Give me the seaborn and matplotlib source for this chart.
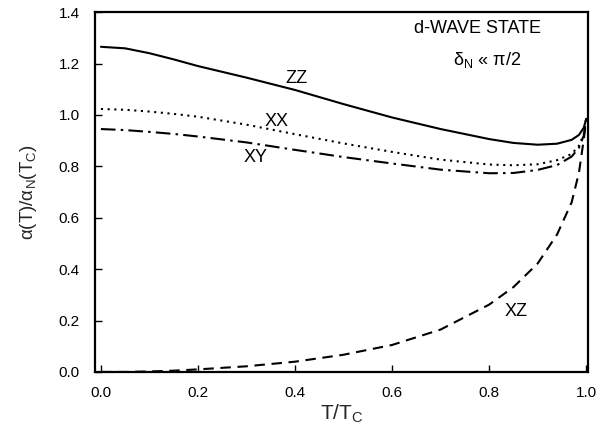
import numpy as np
import pandas as pd
import matplotlib
matplotlib.use("Agg")
import matplotlib.pyplot as plt
import seaborn as sns

# ---- data ----
T = [0.0, 0.05, 0.1, 0.15, 0.2, 0.3, 0.4, 0.5, 0.6, 0.7, 0.8, 0.85, 0.9, 0.94, 0.97, 0.985, 0.995, 1.0]
ZZ = [1.265, 1.259, 1.240, 1.216, 1.190, 1.145, 1.097, 1.042, 0.990, 0.945, 0.906, 0.891, 0.884, 0.888, 0.903, 0.922, 0.950, 0.985]
XX = [1.023, 1.020, 1.013, 1.004, 0.993, 0.962, 0.925, 0.889, 0.856, 0.826, 0.807, 0.804, 0.808, 0.824, 0.848, 0.880, 0.925, 0.985]
XY = [0.945, 0.941, 0.934, 0.926, 0.916, 0.893, 0.864, 0.836, 0.811, 0.787, 0.773, 0.774, 0.786, 0.805, 0.838, 0.872, 0.920, 0.985]
XZ = [0.000, 0.000, 0.002, 0.005, 0.010, 0.022, 0.040, 0.067, 0.105, 0.165, 0.262, 0.330, 0.422, 0.535, 0.660, 0.775, 0.905, 0.985]

series_names = ["ZZ", "XX", "XY", "XZ"]
series_vals = [ZZ, XX, XY, XZ]
label_x = [0.404, 0.363, 0.318, 0.855]
label_y = [1.140, 0.973, 0.833, 0.235]
xticks = [0.0, 0.2, 0.4, 0.6, 0.8, 1.0]
yticks = [0.0, 0.2, 0.4, 0.6, 0.8, 1.0, 1.2, 1.4]

sns.set_theme(style="ticks")
plt.rcParams['font.family'] = ['Liberation Sans', 'DejaVu Sans']
plt.rcParams['mathtext.fontset'] = 'custom'
plt.rcParams['mathtext.rm'] = 'Liberation Sans'
plt.rcParams['mathtext.it'] = 'Liberation Sans:italic'

df = pd.DataFrame({
    "T": np.tile(T, len(series_names)),
    "val": np.concatenate(series_vals),
    "comp": np.repeat(series_names, len(T)),
})

fig = plt.figure(figsize=(6.02, 4.32), dpi=100)
ax = fig.add_axes([0.158, 0.139, 0.819, 0.833])

styles = {
    "XX": (1, 2.2),
    "XY": (7, 2.5, 1.2, 2.5),
    "XZ": (5, 3.2),
}
for name in series_names:
    sub = df[df["comp"] == name]
    sns.lineplot(data=sub, x="T", y="val", ax=ax, color="black",
                 lw=1.5, sort=False, estimator=None)
    l = ax.lines[-1]
    if name == "ZZ":
        l.set_linestyle("-")
    else:
        l.set_dashes(styles[name])

for name, lx, ly in zip(series_names, label_x, label_y):
    ax.text(lx, ly, name, ha="center", va="center", fontsize=13, color="black")

ax.text(0.775, 1.335, "d-WAVE STATE", ha="center", va="center", fontsize=13, color="black")
ax.text(0.795, 1.215, "δ$_\\mathregular{N}$ « π/2", ha="center", va="center", fontsize=13,
        color="black")

ax.set_xlim(-0.012, 1.004)
ax.set_ylim(0.0, 1.4)
ax.set_xticks(xticks)
ax.set_xticklabels([f"{t:.1f}" for t in xticks])
ax.set_yticks(yticks)
ax.set_yticklabels([f"{t:.1f}" for t in yticks])
ax.tick_params(direction="in", length=5, width=1, labelsize=11, colors="black")
ax.tick_params(axis="x", pad=10)
ax.tick_params(axis="y", pad=11)
for s in ax.spines.values():
    s.set_visible(True)
    s.set_linewidth(1.6)
    s.set_color("black")

ax.set_xlabel("T/T$_\\mathregular{C}$", fontsize=15, labelpad=2)
ax.set_ylabel("α(T)/α$_\\mathregular{N}$(T$_\\mathregular{C}$)", fontsize=13.5, labelpad=14)

fig.savefig("out.png", dpi=100)
